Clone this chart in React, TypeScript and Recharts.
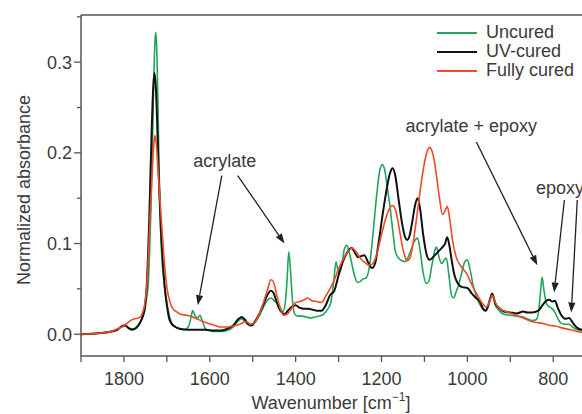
import React from "react";
import { LineChart, Line, XAxis, YAxis, ReferenceLine, ReferenceDot, Label } from "recharts";

const FONT = '"Liberation Sans", Arial, Helvetica, sans-serif';
const TEXT = "#3a3a3a";
const AXIS = "#555555";

const SERIES_NAMES = ["Uncured", "UV-cured", "Fully cured"];
const SERIES_COLORS = ["#1fa65a", "#111111", "#f04a2a"];
const SERIES_WIDTHS = [1.6, 2, 1.6];

const X_TICKS = [1900, 1800, 1700, 1600, 1500, 1400, 1300, 1200, 1100, 1000, 900, 800];
const Y_TICKS = [0, 0.05, 0.1, 0.15, 0.2, 0.25, 0.3, 0.35];

// [wavenumber, absorbance]
const UNCURED: [number, number][] = [
  [1900, 0], [1880, 0], [1860, 0.001], [1840, 0.002], [1820, 0.004], [1805, 0.008], [1795, 0.009],
  [1785, 0.006], [1775, 0.006], [1765, 0.01], [1758, 0.018], [1752, 0.025], [1747, 0.04], [1743, 0.058],
  [1740, 0.095], [1737, 0.14], [1734, 0.2], [1731, 0.27], [1728, 0.32], [1726, 0.333], [1724, 0.32],
  [1721, 0.26], [1718, 0.18], [1715, 0.12], [1711, 0.08], [1706, 0.055], [1700, 0.035], [1694, 0.02],
  [1688, 0.012], [1680, 0.008], [1670, 0.006], [1660, 0.005], [1650, 0.008], [1644, 0.018], [1640, 0.026],
  [1634, 0.02], [1628, 0.018], [1623, 0.021], [1617, 0.014], [1610, 0.006], [1600, 0.004], [1585, 0.003],
  [1570, 0.003], [1560, 0.004], [1545, 0.008], [1535, 0.014], [1526, 0.017], [1518, 0.014], [1510, 0.01],
  [1503, 0.009], [1495, 0.013], [1485, 0.02], [1475, 0.03], [1465, 0.038], [1458, 0.04], [1452, 0.038],
  [1445, 0.035], [1437, 0.03], [1430, 0.025], [1424, 0.035], [1420, 0.06], [1416, 0.091], [1412, 0.07],
  [1407, 0.035], [1402, 0.022], [1395, 0.02], [1385, 0.02], [1375, 0.019], [1365, 0.018], [1355, 0.019],
  [1345, 0.02], [1335, 0.022], [1325, 0.028], [1318, 0.035], [1312, 0.055], [1306, 0.08], [1300, 0.068],
  [1293, 0.075], [1286, 0.095], [1281, 0.098], [1275, 0.09], [1268, 0.075], [1262, 0.063], [1256, 0.057],
  [1250, 0.058], [1243, 0.061], [1236, 0.062], [1228, 0.075], [1220, 0.11], [1212, 0.15], [1205, 0.178],
  [1198, 0.187], [1192, 0.18], [1186, 0.16], [1180, 0.14], [1174, 0.115], [1168, 0.092], [1162, 0.085],
  [1152, 0.081], [1146, 0.08], [1140, 0.083], [1132, 0.092], [1124, 0.102], [1116, 0.106], [1110, 0.092],
  [1103, 0.068], [1096, 0.056], [1090, 0.058], [1083, 0.075], [1076, 0.092], [1072, 0.096], [1066, 0.085],
  [1060, 0.078], [1054, 0.082], [1049, 0.084], [1043, 0.065], [1037, 0.043], [1032, 0.04], [1026, 0.047],
  [1020, 0.055], [1012, 0.07], [1006, 0.08], [1000, 0.082], [994, 0.072], [987, 0.055], [979, 0.041],
  [970, 0.032], [960, 0.026], [952, 0.03], [946, 0.04], [942, 0.043], [935, 0.032], [926, 0.026],
  [915, 0.022], [900, 0.021], [885, 0.02], [870, 0.019], [860, 0.017], [849, 0.015], [840, 0.016],
  [834, 0.025], [829, 0.05], [826, 0.063], [822, 0.05], [816, 0.034], [809, 0.03], [802, 0.028],
  [796, 0.024], [788, 0.016], [781, 0.012], [772, 0.011], [763, 0.011], [755, 0.008], [744, 0.005], [733, 0.004],
];

const UV_CURED: [number, number][] = [
  [1900, 0], [1860, 0.001], [1830, 0.003], [1815, 0.005], [1805, 0.009], [1798, 0.01], [1790, 0.007],
  [1782, 0.005], [1775, 0.006], [1768, 0.009], [1760, 0.015], [1754, 0.023], [1750, 0.035], [1747, 0.052],
  [1744, 0.085], [1741, 0.126], [1738, 0.18], [1735, 0.23], [1732, 0.27], [1729, 0.288], [1726, 0.275],
  [1723, 0.24], [1720, 0.19], [1717, 0.15], [1714, 0.118], [1710, 0.085], [1705, 0.052], [1700, 0.032],
  [1695, 0.018], [1690, 0.012], [1680, 0.008], [1670, 0.006], [1650, 0.005], [1630, 0.005], [1610, 0.005],
  [1590, 0.004], [1575, 0.004], [1560, 0.006], [1545, 0.01], [1535, 0.016], [1526, 0.019], [1518, 0.016],
  [1510, 0.011], [1503, 0.01], [1495, 0.014], [1485, 0.022], [1475, 0.033], [1465, 0.044], [1458, 0.048],
  [1452, 0.046], [1446, 0.038], [1440, 0.03], [1432, 0.024], [1426, 0.022], [1418, 0.026], [1410, 0.03],
  [1400, 0.032], [1390, 0.029], [1380, 0.028], [1370, 0.028], [1360, 0.027], [1350, 0.026], [1340, 0.026],
  [1330, 0.032], [1320, 0.043], [1310, 0.048], [1300, 0.065], [1290, 0.08], [1280, 0.09], [1270, 0.095],
  [1262, 0.09], [1255, 0.085], [1248, 0.086], [1240, 0.087], [1232, 0.08], [1222, 0.073], [1215, 0.078],
  [1207, 0.1], [1198, 0.13], [1188, 0.16], [1180, 0.178], [1174, 0.183], [1168, 0.175], [1160, 0.148],
  [1152, 0.122], [1145, 0.107], [1140, 0.104], [1135, 0.108], [1128, 0.125], [1122, 0.142], [1116, 0.15],
  [1110, 0.138], [1103, 0.11], [1096, 0.09], [1088, 0.082], [1080, 0.085], [1070, 0.09], [1060, 0.095],
  [1052, 0.1], [1047, 0.107], [1042, 0.098], [1036, 0.08], [1030, 0.065], [1022, 0.056], [1012, 0.052],
  [1000, 0.051], [990, 0.045], [980, 0.04], [972, 0.037], [963, 0.028], [957, 0.026], [950, 0.034],
  [942, 0.045], [935, 0.034], [926, 0.029], [915, 0.025], [900, 0.024], [885, 0.023], [870, 0.025],
  [860, 0.024], [849, 0.024], [835, 0.026], [825, 0.032], [816, 0.037], [809, 0.038], [802, 0.036],
  [796, 0.037], [790, 0.03], [781, 0.021], [772, 0.017], [763, 0.018], [755, 0.013], [744, 0.007], [733, 0.005],
];

const FULLY_CURED: [number, number][] = [
  [1900, 0], [1860, 0.001], [1830, 0.003], [1815, 0.006], [1805, 0.008], [1795, 0.011], [1785, 0.015],
  [1775, 0.017], [1765, 0.018], [1758, 0.022], [1752, 0.032], [1747, 0.052], [1743, 0.085], [1739, 0.13],
  [1735, 0.17], [1731, 0.205], [1728, 0.219], [1725, 0.212], [1721, 0.185], [1717, 0.155], [1712, 0.12],
  [1706, 0.08], [1700, 0.052], [1693, 0.036], [1686, 0.028], [1678, 0.025], [1668, 0.022], [1655, 0.021],
  [1645, 0.02], [1635, 0.018], [1620, 0.015], [1605, 0.012], [1590, 0.01], [1575, 0.008], [1560, 0.008],
  [1545, 0.009], [1530, 0.011], [1515, 0.014], [1505, 0.011], [1495, 0.013], [1485, 0.022], [1475, 0.035],
  [1465, 0.05], [1458, 0.06], [1452, 0.058], [1445, 0.045], [1437, 0.03], [1428, 0.021], [1420, 0.022],
  [1410, 0.028], [1400, 0.035], [1390, 0.036], [1380, 0.038], [1372, 0.04], [1362, 0.037], [1350, 0.036],
  [1340, 0.035], [1330, 0.042], [1320, 0.05], [1310, 0.06], [1300, 0.072], [1290, 0.082], [1280, 0.09],
  [1268, 0.095], [1258, 0.09], [1248, 0.083], [1238, 0.079], [1228, 0.076], [1220, 0.078], [1210, 0.09],
  [1200, 0.11], [1190, 0.128], [1182, 0.138], [1175, 0.142], [1168, 0.138], [1160, 0.12], [1152, 0.098],
  [1145, 0.085], [1140, 0.081], [1133, 0.085], [1125, 0.105], [1115, 0.14], [1105, 0.175], [1096, 0.198],
  [1088, 0.206], [1080, 0.198], [1072, 0.175], [1065, 0.15], [1058, 0.132], [1052, 0.136], [1047, 0.141],
  [1042, 0.13], [1035, 0.105], [1026, 0.085], [1015, 0.075], [1002, 0.067], [990, 0.055], [979, 0.045],
  [965, 0.034], [956, 0.03], [948, 0.036], [942, 0.043], [935, 0.035], [926, 0.029], [910, 0.025],
  [886, 0.021], [870, 0.018], [856, 0.015], [840, 0.013], [826, 0.012], [810, 0.01], [795, 0.009],
  [780, 0.007], [760, 0.005], [744, 0.003], [733, 0.002],
];

const SERIES = [UNCURED, UV_CURED, FULLY_CURED];

// annotation labels: [text, wavenumber, absorbance, anchor]
const NOTES: [string, number, number, string][] = [
  ["acrylate", 1565, 0.192, "middle"],
  ["acrylate + epoxy", 991, 0.2305, "middle"],
  ["epoxy", 840, 0.162, "start"],
];
// arrows: [from wn, from abs, to wn, to abs]
const ARROWS: [number, number, number, number][] = [
  [1572, 0.175, 1628, 0.032],
  [1535, 0.175, 1426, 0.1],
  [979, 0.212, 837, 0.076],
  [774, 0.148, 798, 0.046],
  [744, 0.148, 758, 0.024],
];

const toRows = (pts: [number, number][]) => pts.map(([wn, a]) => ({ wn, a }));

function XTick({ x, y, payload }: any) {
  const v = payload.value;
  const major = v % 200 === 0;
  return (
    <g>
      <line x1={x} x2={x} y1={y} y2={y + 6} stroke={AXIS} strokeWidth={1.3} />
      {major && (
        <text x={x} y={y + 28.5} textAnchor="middle" fontSize={18} fontFamily={FONT} fill={TEXT}>
          {v}
        </text>
      )}
    </g>
  );
}

function YTick({ x, y, payload }: any) {
  const v = payload.value;
  const major = Math.abs(v * 10 - Math.round(v * 10)) < 1e-6;
  return (
    <g>
      <line x1={x - (major ? 7 : 4)} x2={x} y1={y} y2={y} stroke={AXIS} strokeWidth={1.3} />
      {major && (
        <text x={x - 9} y={y + 6.5} textAnchor="end" fontSize={18} fontFamily={FONT} fill={TEXT}>
          {v.toFixed(1)}
        </text>
      )}
    </g>
  );
}

function Arrow(p: any) {
  const { x1, y1, x2, y2 } = p;
  const ang = Math.atan2(y2 - y1, x2 - x1);
  const L = 10;
  const W = 3.6;
  const bx = x2 - L * Math.cos(ang);
  const by = y2 - L * Math.sin(ang);
  const s = Math.sin(ang);
  const c = Math.cos(ang);
  const pts = `${x2},${y2} ${bx - W * s},${by + W * c} ${bx + W * s},${by - W * c}`;
  return (
    <g>
      <line x1={x1} y1={y1} x2={bx} y2={by} stroke="#222" strokeWidth={1.3} />
      <polygon points={pts} fill="#222" />
    </g>
  );
}

export default function App() {
  return (
    <div style={{ position: "absolute", left: 0, top: 0, width: 582, height: 414, background: "#fff" }}>
      <LineChart width={582} height={414} margin={{ top: 15, right: 0, bottom: 0, left: 0 }}>
        <XAxis
          type="number"
          dataKey="wn"
          domain={[733, 1900]}
          reversed
          allowDataOverflow
          ticks={X_TICKS}
          interval={0}
          height={58}
          tickSize={0}
          tickMargin={0}
          tickLine={false}
          tick={<XTick />}
          stroke={AXIS}
          strokeWidth={1.5}
        >
          <Label
            content={() => (
              <text x={331} y={409} textAnchor="middle" fontSize={18} fontFamily={FONT} fill={TEXT}>
                Wavenumber [cm
                <tspan fontSize={12} dy={-8}>−1</tspan>
                <tspan dy={8}>]</tspan>
              </text>
            )}
          />
        </XAxis>
        <YAxis
          type="number"
          domain={[-0.024, 0.352]}
          allowDataOverflow
          ticks={Y_TICKS}
          interval={0}
          width={81}
          tickSize={0}
          tickMargin={0}
          tickLine={false}
          tick={<YTick />}
          stroke={AXIS}
          strokeWidth={1.5}
        >
          <Label
            content={() => (
              <text
                x={30}
                y={190}
                transform="rotate(-90 30 190)"
                textAnchor="middle"
                fontSize={18}
                fontFamily={FONT}
                fill={TEXT}
              >
                Normalized absorbance
              </text>
            )}
          />
        </YAxis>
        <ReferenceLine y={0.352} stroke={AXIS} strokeWidth={1.5} />
        {SERIES.map((pts, i) => (
          <Line
            key={SERIES_NAMES[i]}
            name={SERIES_NAMES[i]}
            data={toRows(pts)}
            dataKey="a"
            type="monotone"
            stroke={SERIES_COLORS[i]}
            strokeWidth={SERIES_WIDTHS[i]}
            dot={false}
            activeDot={false}
            isAnimationActive={false}
          />
        ))}
        {ARROWS.map(([xa, ya, xb, yb], i) => (
          <ReferenceLine
            key={"arrow" + i}
            segment={[{ x: xa, y: ya }, { x: xb, y: yb }]}
            ifOverflow="visible"
            shape={<Arrow />}
          />
        ))}
        {NOTES.map(([t, wn, a, anchor]) => (
          <ReferenceDot
            key={t}
            x={wn}
            y={a}
            r={0}
            ifOverflow="visible"
            shape={(p: any) => (
              <text
                x={p.cx}
                y={p.cy + 6.5}
                textAnchor={anchor}
                fontSize={18}
                fontFamily={FONT}
                fill={TEXT}
              >
                {t}
              </text>
            )}
          />
        ))}
      </LineChart>
      <div
        style={{
          position: "absolute",
          left: 437,
          top: 23,
          fontFamily: FONT,
          fontSize: 18,
          lineHeight: "19px",
          color: TEXT,
          whiteSpace: "nowrap",
        }}
      >
        {SERIES_NAMES.map((n, i) => (
          <div key={n} style={{ display: "flex", alignItems: "center" }}>
            <span style={{ display: "inline-block", width: 40, height: 2, background: SERIES_COLORS[i], marginRight: 9 }} />
            <span>{n}</span>
          </div>
        ))}
      </div>
    </div>
  );
}
